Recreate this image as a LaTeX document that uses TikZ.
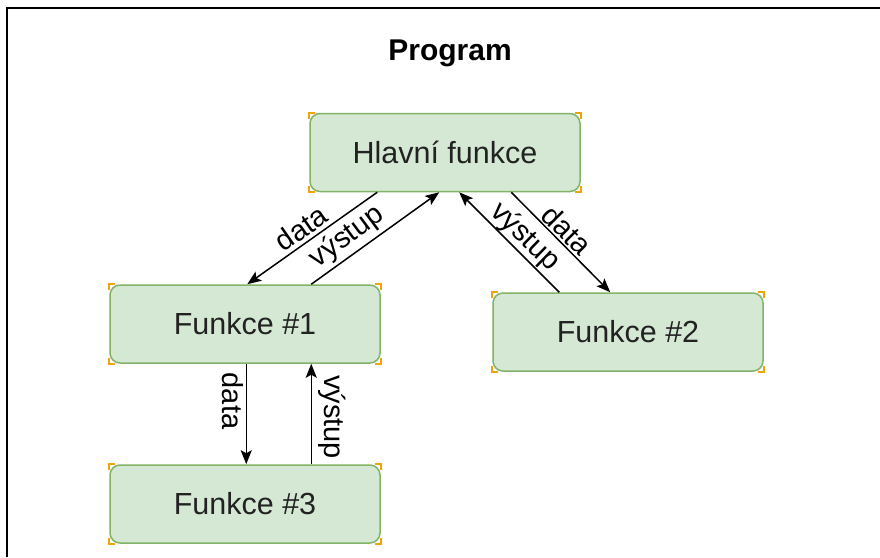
\documentclass[tikz,border=0pt]{standalone}
\usepackage{fontspec}
\setmainfont{Liberation Sans}
\usetikzlibrary{arrows.meta}
\definecolor{boxfill}{HTML}{D5E8D4}
\definecolor{boxline}{HTML}{82B366}
\definecolor{cornermark}{HTML}{F0A30A}
\definecolor{txt}{HTML}{222222}
\tikzset{
  fnbox/.style={rectangle, rounded corners=10pt, draw=boxline, fill=boxfill,
    line width=1.5pt, minimum width=270pt, minimum height=78pt, inner sep=0pt,
    text=txt, font=\fontsize{30.5}{36}\selectfont},
  arr/.style={line width=1.5pt, -{Stealth[length=14pt,width=11pt,inset=3pt]}},
  lbl/.style={inner sep=0pt, text=black, font=\fontsize{29}{34}\selectfont},
  ttl/.style={inner sep=0pt, font=\fontsize{30}{36}\selectfont\bfseries},
  corner/.style={cornermark, line width=1.6pt},
}
% small orange square corners peeking out behind a rounded box
\newcommand{\cornermarks}[1]{%
  \draw[corner] ([xshift=6pt]#1.north west) -- (#1.north west) -- ([yshift=-6pt]#1.north west);
  \draw[corner] ([xshift=-6pt]#1.north east) -- (#1.north east) -- ([yshift=-6pt]#1.north east);
  \draw[corner] ([xshift=6pt]#1.south west) -- (#1.south west) -- ([yshift=6pt]#1.south west);
  \draw[corner] ([xshift=-6pt]#1.south east) -- (#1.south east) -- ([yshift=6pt]#1.south east);}
\begin{document}
\begin{tikzpicture}[x=1pt,y=-1pt]
\useasboundingbox (0,0) rectangle (880,557);
\fill[white] (0,0) rectangle (880,557);
% outer frame
\draw[line width=2pt] (7,557) -- (7,7.5) -- (880,7.5);

\node[ttl] (title) at (450,53) {Program};

% function boxes
\coordinate (chf) at (445,152.5);
\coordinate (cf1) at (245,324);
\coordinate (cf2) at (628,332);
\coordinate (cf3) at (245,504);
\foreach \c/\n in {chf/hf0, cf1/f10, cf2/f20, cf3/f30} {
  \node[fnbox, draw=none, fill=none] (\n) at (\c) {};
  \cornermarks{\n}
}
\node[fnbox] (hf) at (chf) {Hlavní funkce};
\node[fnbox] (f1) at (cf1) {Funkce \#1};
\node[fnbox] (f2) at (cf2) {Funkce \#2};
\node[fnbox] (f3) at (cf3) {Funkce \#3};

% main function <-> function 1
\draw[arr] ([xshift=68pt]hf.south west) -- ([xshift=138pt]f1.north west);
\draw[arr] ([xshift=202pt]f1.north west) -- ([xshift=130pt]hf.south west);
\node[lbl, rotate=35] (l1) at (301,228) {data};
\node[lbl, rotate=36.7] (l2) at (347,237) {výstup};

% main function <-> function 2
\draw[arr] ([xshift=67pt]f2.north west) -- ([xshift=150pt]hf.south west);
\draw[arr] ([xshift=202pt]hf.south west) -- ([xshift=118pt]f2.north west);
\node[lbl, rotate=-44] (l3) at (525,237) {výstup};
\node[lbl, rotate=-45] (l4) at (567,230) {data};

% function 1 <-> function 3
\draw[arr] ([xshift=137pt]f1.south west) -- ([xshift=137pt]f3.north west);
\draw[arr] ([xshift=202pt]f3.north west) -- ([xshift=202pt]f1.south west);
\node[lbl, rotate=-90] (l5) at (233,401) {data};
\node[lbl, rotate=-90] (l6) at (332,417) {výstup};
\end{tikzpicture}
\end{document}
